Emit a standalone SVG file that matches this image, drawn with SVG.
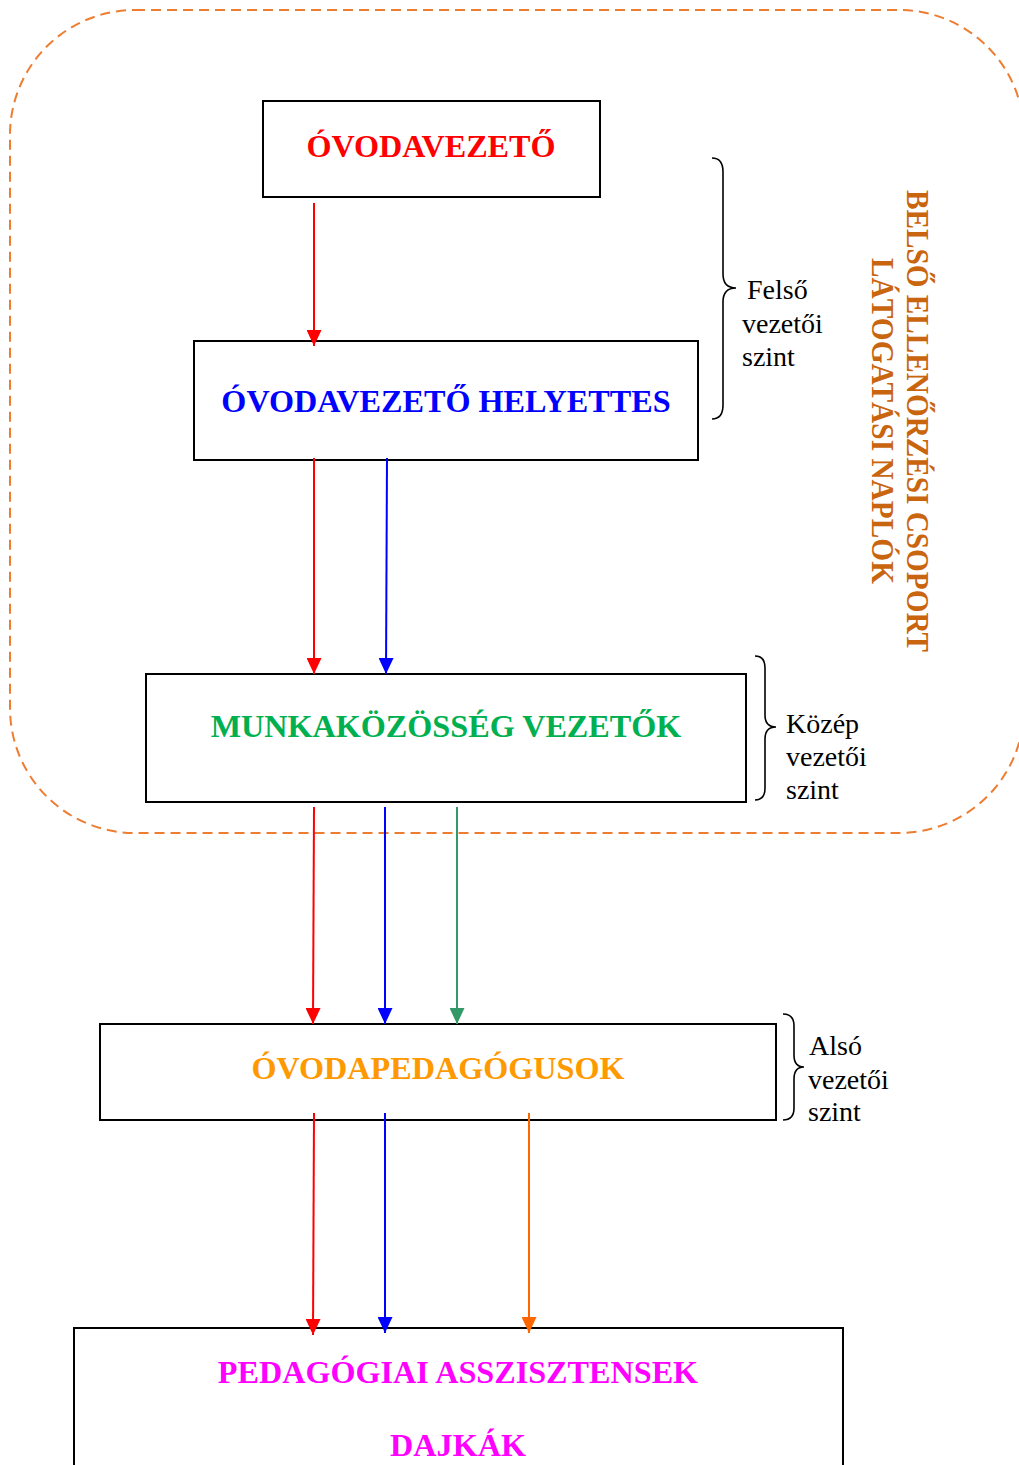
<svg xmlns="http://www.w3.org/2000/svg" width="1019" height="1465" viewBox="0 0 1019 1465">
<style>
.box{fill:#fff;stroke:#000;stroke-width:2}
.title{font-family:"Liberation Serif","Times New Roman",serif;font-weight:bold;font-size:32.2px;text-anchor:middle}
.lbl{font-family:"Liberation Serif","Times New Roman",serif;font-size:28px;fill:#000}
.brace{fill:none;stroke:#000;stroke-width:1.6}
.ln{stroke-width:2;fill:none}
</style>
<defs>
<marker id="ar" markerUnits="userSpaceOnUse" markerWidth="16" markerHeight="15" refX="16" refY="7.5" orient="auto"><path d="M0,0 L16,7.5 L0,15 z" fill="#FF0000"/></marker>
<marker id="ab" markerUnits="userSpaceOnUse" markerWidth="16" markerHeight="15" refX="16" refY="7.5" orient="auto"><path d="M0,0 L16,7.5 L0,15 z" fill="#0000FF"/></marker>
<marker id="ag" markerUnits="userSpaceOnUse" markerWidth="16" markerHeight="15" refX="16" refY="7.5" orient="auto"><path d="M0,0 L16,7.5 L0,15 z" fill="#339966"/></marker>
<marker id="ao" markerUnits="userSpaceOnUse" markerWidth="16" markerHeight="15" refX="16" refY="7.5" orient="auto"><path d="M0,0 L16,7.5 L0,15 z" fill="#FF6600"/></marker>
</defs>
<rect width="1019" height="1465" fill="#fff"/>
<g id="group-boundary">
<rect x="10" y="10" width="1014" height="823" rx="125" ry="125" fill="none" stroke="#ED7D31" stroke-width="2" stroke-dasharray="10 6"/>
<text font-family="'Liberation Serif','Times New Roman',serif" font-weight="bold" font-size="32" fill="#C9650E" text-anchor="middle" transform="translate(907,421) rotate(90)"><tspan x="0" y="0" textLength="462" lengthAdjust="spacingAndGlyphs">BELSŐ ELLENŐRZÉSI CSOPORT</tspan><tspan x="0" y="35" textLength="326" lengthAdjust="spacingAndGlyphs">LÁTOGATÁSI NAPLÓK</tspan></text>
</g>
<g id="node-ovodavezeto">
<rect class="box" x="263" y="101" width="337" height="96"/>
<text class="title" x="431" y="157" fill="#FF0000">ÓVODAVEZETŐ</text>
</g>
<g id="node-helyettes">
<rect class="box" x="194" y="341" width="504" height="119"/>
<text class="title" x="446" y="412" fill="#0000FF">ÓVODAVEZETŐ HELYETTES</text>
</g>
<g id="node-munkakozosseg">
<rect class="box" x="146" y="674" width="600" height="128"/>
<text class="title" x="446" y="737" fill="#00B050">MUNKAKÖZÖSSÉG VEZETŐK</text>
</g>
<g id="node-ovodapedagogusok">
<rect class="box" x="100" y="1024" width="676" height="96"/>
<text class="title" x="438" y="1079" fill="#FF9900">ÓVODAPEDAGÓGUSOK</text>
</g>
<g id="node-asszisztensek">
<rect class="box" x="74" y="1328" width="769" height="160"/>
<text class="title" x="458" y="1383" fill="#FF00FF">PEDAGÓGIAI ASSZISZTENSEK</text>
<text class="title" x="458" y="1456" fill="#FF00FF">DAJKÁK</text>
</g>
<g id="connectors">
<line class="ln" x1="314" y1="203" x2="314" y2="346" stroke="#FF0000" marker-end="url(#ar)"/>
<line class="ln" x1="314" y1="458" x2="314" y2="674" stroke="#FF0000" marker-end="url(#ar)"/>
<line class="ln" x1="387" y1="458" x2="386" y2="674" stroke="#0000FF" marker-end="url(#ab)"/>
<line class="ln" x1="314" y1="807" x2="313" y2="1024" stroke="#FF0000" marker-end="url(#ar)"/>
<line class="ln" x1="385" y1="807" x2="385" y2="1024" stroke="#0000FF" marker-end="url(#ab)"/>
<line class="ln" x1="457" y1="807" x2="457" y2="1024" stroke="#339966" marker-end="url(#ag)"/>
<line class="ln" x1="314" y1="1113" x2="313" y2="1335" stroke="#FF0000" marker-end="url(#ar)"/>
<line class="ln" x1="385" y1="1113" x2="385" y2="1333" stroke="#0000FF" marker-end="url(#ab)"/>
<line class="ln" x1="529" y1="1113" x2="529" y2="1333" stroke="#FF6600" marker-end="url(#ao)"/>
</g>
<g id="level-felso">
<path class="brace" d="M712,158 Q723,158 723,172 L723,274 Q723,288 736,288 Q723,288 723,302 L723,405 Q723,419 712,419"/>
<text class="lbl"><tspan x="747" y="299">Felső</tspan><tspan x="742" y="333">vezetői</tspan><tspan x="742" y="366">szint</tspan></text>
</g>
<g id="level-kozep">
<path class="brace" d="M755,656 Q765,656 765,668 L765,715 Q765,727 776,727 Q765,727 765,739 L765,788 Q765,800 755,800"/>
<text class="lbl"><tspan x="786" y="733">Közép</tspan><tspan x="786" y="766">vezetői</tspan><tspan x="786" y="799">szint</tspan></text>
</g>
<g id="level-also">
<path class="brace" d="M783,1014 Q794,1014 794,1026 L794,1055 Q794,1067 804,1067 Q794,1067 794,1079 L794,1108 Q794,1120 783,1120"/>
<text class="lbl"><tspan x="809" y="1055">Alsó</tspan><tspan x="808" y="1089">vezetői</tspan><tspan x="808" y="1121">szint</tspan></text>
</g>
</svg>
